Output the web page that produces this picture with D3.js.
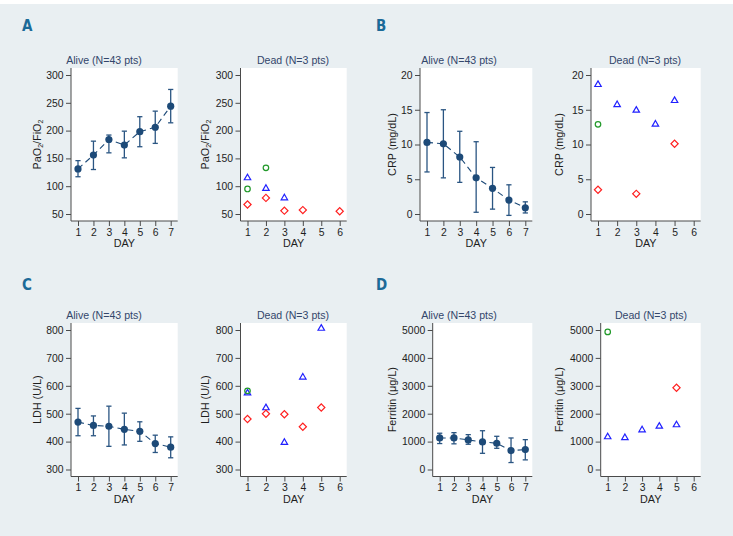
<!DOCTYPE html>
<html><head><meta charset="utf-8">
<script src="https://cdn.jsdelivr.net/npm/d3@7"></script>
<style>body{margin:0;background:#fff}svg{display:block}</style>
</head><body><svg id="c" width="733" height="536"></svg>
<script>
// ---------- DATA ----------
const aliveDays = [1, 2, 3, 4, 5, 6, 7];
const deadDays = [1, 2, 3, 4, 5, 6];

const pao2Ticks = [50, 100, 150, 200, 250, 300];
const crpTicks = [0, 5, 10, 15, 20];
const ldhTicks = [300, 400, 500, 600, 700, 800];
const ferritinTicks = [0, 1000, 2000, 3000, 4000, 5000];

// Alive: central value and error bar limits per day
const pao2AliveMid = [131, 156, 184, 174, 198, 206, 244];
const pao2AliveLo  = [117, 130, 160, 151, 171, 177, 214];
const pao2AliveHi  = [146, 181, 192, 199, 225, 235, 274];

const crpAliveMid = [10.3, 10.1, 8.2, 5.2, 3.7, 2.0, 0.9];
const crpAliveLo  = [6.05, 5.2, 4.55, 0.25, 0.7, -0.2, 0.15];
const crpAliveHi  = [14.6, 15.0, 11.9, 10.4, 6.7, 4.2, 1.75];

const ldhAliveMid = [470, 458, 455, 444, 437, 393, 380];
const ldhAliveLo  = [421, 421, 383, 388, 401, 361, 342];
const ldhAliveHi  = [519, 492, 527, 502, 471, 423, 417];

const ferritinAliveMid = [1130, 1130, 1060, 990, 940, 680, 714];
const ferritinAliveLo  = [930, 920, 905, 580, 760, 250, 345];
const ferritinAliveHi  = [1300, 1320, 1250, 1390, 1190, 1130, 1070];

// Dead: one array per patient (triangle, circle, diamond), value per day (null = missing)
const pao2DeadTri  = [116, 97, 80, null, null, null];
const pao2DeadCirc = [95, 133, null, null, null, null];
const pao2DeadDiam = [67, 79, 56, 57, null, 55];

const crpDeadTri  = [18.7, 15.8, 15.0, 13.0, 16.4, null];
const crpDeadCirc = [12.9, null, null, null, null, null];
const crpDeadDiam = [3.5, null, 2.9, null, 10.1, null];

const ldhDeadTri  = [576, 523, 399, 633, 808, null];
const ldhDeadCirc = [582, null, null, null, null, null];
const ldhDeadDiam = [481, 500, 498, 453, 522, null];

const ferritinDeadTri  = [1190, 1160, 1440, 1570, 1620, null];
const ferritinDeadCirc = [4930, null, null, null, null, null];
const ferritinDeadDiam = [null, null, null, null, 2930, null];

const aliveTitle = "Alive (N=43 pts)";
const deadTitle = "Dead (N=3 pts)";
const xTitle = "DAY";

// ---------- LAYOUT / STYLE ----------
const FONT = "Liberation Sans, Arial, Helvetica, sans-serif";
const NAVY = "#1d4a78";
const TITLE_C = "#33466b";
const AXIS_C = "#4a4a4a";
const PAD = 7;

const panels = [
  { letter: "A", lx: 22, ly: 31, yTicks: pao2Ticks, yLabel: [["PaO",0],["2",1],["/FiO",0],["2",1]],
    alive: [pao2AliveMid, pao2AliveLo, pao2AliveHi], dead: [pao2DeadTri, pao2DeadCirc, pao2DeadDiam],
    aRect: [71, 177.7, 68, 221], dRect: [240.5, 346.7, 68, 221],
    aLab: 37, dLab: 205, aTitle: 104, dTitle: 293 },
  { letter: "B", lx: 376, ly: 31, yTicks: crpTicks, yLabel: [["CRP (mg/dL)",0]],
    alive: [crpAliveMid, crpAliveLo, crpAliveHi], dead: [crpDeadTri, crpDeadCirc, crpDeadDiam],
    aRect: [420, 532.3, 68, 221], dRect: [591, 700.7, 68, 221],
    aLab: 392, dLab: 559.5, aTitle: 459, dTitle: 645 },
  { letter: "C", lx: 22, ly: 290, yTicks: ldhTicks, yLabel: [["LDH (U/L)",0]],
    alive: [ldhAliveMid, ldhAliveLo, ldhAliveHi], dead: [ldhDeadTri, ldhDeadCirc, ldhDeadDiam],
    aRect: [71, 177.7, 323, 476.5], dRect: [240.5, 346.7, 323, 476.5],
    aLab: 37, dLab: 205, aTitle: 104, dTitle: 293 },
  { letter: "D", lx: 376, ly: 290, yTicks: ferritinTicks, yLabel: [["Ferritin (\u03bcg/L)",0]],
    alive: [ferritinAliveMid, ferritinAliveLo, ferritinAliveHi], dead: [ferritinDeadTri, ferritinDeadCirc, ferritinDeadDiam],
    aRect: [432.7, 532.3, 323, 476.5], dRect: [600.7, 700.7, 323, 476.5],
    aLab: 392, dLab: 559.5, aTitle: 459, dTitle: 651 }
];

const svg = d3.select("#c");
svg.append("rect").attr("width", 733).attr("height", 536).attr("fill", "#e9eff2");
svg.append("rect").attr("width", 733).attr("height", 4).attr("fill", "#ffffff");

function frame(rect, days, yTicks, title, titleX, labX, yLabel) {
  const [x0, x1, y0, y1] = rect;
  const g = svg.append("g");
  g.append("rect").attr("x", x0).attr("y", y0).attr("width", x1 - x0).attr("height", y1 - y0).attr("fill", "#fff");
  const x = d3.scaleLinear().domain([days[0], days[days.length - 1]]).range([x0 + PAD, x1 - PAD]);
  const y = d3.scaleLinear().domain([yTicks[0], yTicks[yTicks.length - 1]]).range([y1 - PAD, y0 + PAD]);

  const ya = g.append("g").attr("transform", `translate(${x0},0)`)
    .call(d3.axisLeft(y).tickValues(yTicks).tickFormat(d3.format("d")).tickSize(5).tickSizeOuter(0).tickPadding(2.5));
  const xa = g.append("g").attr("transform", `translate(0,${y1})`)
    .call(d3.axisBottom(x).tickValues(days).tickFormat(d3.format("d")).tickSize(5).tickSizeOuter(0).tickPadding(2.2));
  [ya, xa].forEach(a => {
    a.attr("font-family", null).attr("font-size", null);
    a.select(".domain").remove();
    a.selectAll(".tick line").attr("stroke", AXIS_C);
    a.selectAll(".tick text").attr("fill", "#1e1e1e").attr("font-family", FONT).attr("font-size", "10.4px");
  });
  g.append("line").attr("x1", x0).attr("x2", x0).attr("y1", y0).attr("y2", y1).attr("stroke", AXIS_C);
  g.append("line").attr("x1", x0).attr("x2", x1).attr("y1", y1).attr("y2", y1).attr("stroke", AXIS_C);

  g.append("text").attr("x", titleX).attr("y", y0 - 3.8).attr("text-anchor", "middle")
    .attr("font-family", FONT).attr("font-size", "10.6px").attr("fill", TITLE_C).text(title);
  g.append("text").attr("x", (x0 + x1) / 2).attr("y", y1 + 26).attr("text-anchor", "middle")
    .attr("font-family", FONT).attr("font-size", "10.8px").attr("fill", "#1e1e1e").text(xTitle);
  const yl = g.append("text").attr("transform", `translate(${labX},${(y0 + y1) / 2}) rotate(-90)`)
    .attr("text-anchor", "middle").attr("dy", "0.35em")
    .attr("font-family", FONT).attr("font-size", "10.8px").attr("fill", "#1e1e1e");
  yLabel.forEach(([t, sub]) => {
    const ts = yl.append("tspan").text(t);
    if (sub) ts.attr("font-size", "7px").attr("baseline-shift", "-25%");
  });
  return { g, x, y };
}

panels.forEach(p => {
  svg.append("text").attr("x", p.lx).attr("y", p.ly)
    .attr("font-family", "Liberation Sans Narrow, DejaVu Sans Condensed, sans-serif")
    .attr("font-weight", "bold").attr("font-size", "15px").attr("fill", "#1c6a98").text(p.letter);

  // Alive
  const A = frame(p.aRect, aliveDays, p.yTicks, aliveTitle, p.aTitle, p.aLab, p.yLabel);
  const [mid, lo, hi] = p.alive;
  const pts = aliveDays.map((d, i) => ({ d, m: mid[i], lo: lo[i], hi: hi[i] }));
  A.g.append("path").datum(pts)
    .attr("d", d3.line().x(o => A.x(o.d)).y(o => A.y(o.m)))
    .attr("fill", "none").attr("stroke", NAVY).attr("stroke-width", 1.1).attr("stroke-dasharray", "6,4");
  const eb = A.g.append("g").attr("stroke", "#2a5582").attr("stroke-width", 1.3);
  pts.forEach(o => {
    const cx = A.x(o.d);
    eb.append("line").attr("x1", cx).attr("x2", cx).attr("y1", A.y(o.lo)).attr("y2", A.y(o.hi));
    eb.append("line").attr("x1", cx - 2.6).attr("x2", cx + 2.6).attr("y1", A.y(o.lo)).attr("y2", A.y(o.lo));
    eb.append("line").attr("x1", cx - 2.6).attr("x2", cx + 2.6).attr("y1", A.y(o.hi)).attr("y2", A.y(o.hi));
  });
  A.g.selectAll("circle.m").data(pts).join("circle")
    .attr("cx", o => A.x(o.d)).attr("cy", o => A.y(o.m)).attr("r", 3.6).attr("fill", NAVY);

  // Dead
  const D = frame(p.dRect, deadDays, p.yTicks, deadTitle, p.dTitle, p.dLab, p.yLabel);
  const [tri, circ, diam] = p.dead;
  const sym = [
    { vals: tri, shape: d3.symbolTriangle, size: 18, color: "#2020ff", dy: 0.6, rot: 0 },
    { vals: circ, shape: d3.symbolCircle, size: 24, color: "#22992a", dy: 0, rot: 0 },
    { vals: diam, shape: d3.symbolSquare, size: 26, color: "#ff2020", dy: 0, rot: 45 }
  ];
  sym.forEach(s => {
    const data = deadDays.map((d, i) => ({ d, v: s.vals[i] })).filter(o => o.v != null);
    D.g.selectAll(null).data(data).join("path")
      .attr("transform", o => `translate(${D.x(o.d)},${D.y(o.v) + s.dy}) rotate(${s.rot})`)
      .attr("d", d3.symbol().type(s.shape).size(s.size))
      .attr("fill", "none").attr("stroke", s.color).attr("stroke-width", 1.2);
  });
});
</script>
</body></html>
